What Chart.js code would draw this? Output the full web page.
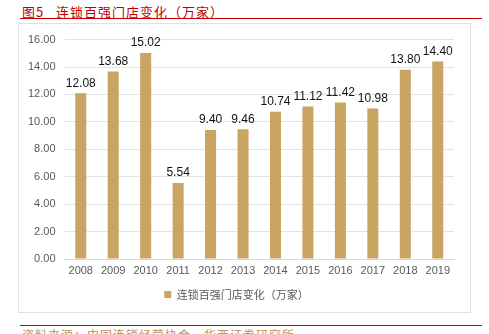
<!DOCTYPE html>
<html>
<head>
<meta charset="utf-8">
<script src="https://cdn.jsdelivr.net/npm/chart.js@4"></script>
<style>
  body { margin: 0; width: 489px; height: 334px; background: #fff; position: relative; overflow: hidden;
         font-family: "Noto Sans CJK SC", "Liberation Sans", sans-serif; }
  #title { position: absolute; left: 22px; top: 2px; font-size: 13px; color: #c00000; white-space: pre; letter-spacing: 1px; }
  #topline { position: absolute; left: 20px; top: 18px; width: 462px; height: 1px; background: #c00000; }
  #box { position: absolute; left: 18px; top: 23px; width: 451px; height: 288px; border: 1px solid #e0e0e0; }
  #botline { position: absolute; left: 20px; top: 325px; width: 462px; height: 1px; background: #c00000; }
  #source { position: absolute; left: 22px; top: 326px; font-size: 12px; color: #b8965a; white-space: pre; letter-spacing: 1px; }
</style>
</head>
<body>
<div id="title">图5   连锁百强门店变化（万家）</div>
<div id="topline"></div>
<div id="box"><canvas id="c"></canvas></div>
<div id="botline"></div>
<div id="source">资料来源：中国连锁经营协会，华西证券研究所</div>
<script>
const years = ["2008","2009","2010","2011","2012","2013","2014","2015","2016","2017","2018","2019"];
const stores = [12.08, 13.68, 15.02, 5.54, 9.40, 9.46, 10.74, 11.12, 11.42, 10.98, 13.80, 14.40];
const seriesName = "连锁百强门店变化（万家）";

const barLabels = {
  id: "barLabels",
  afterDatasetsDraw(chart) {
    const c = chart.ctx;
    c.save();
    c.font = "12px 'Liberation Sans', sans-serif";
    c.fillStyle = "#111";
    c.textAlign = "center";
    c.textBaseline = "bottom";
    chart.getDatasetMeta(0).data.forEach((bar, i) => {
      c.fillText(stores[i].toFixed(2), bar.x, bar.y - 4);
    });
    c.restore();
  }
};

const ctx = document.getElementById("c");
ctx.width = 451; ctx.height = 288;
new Chart(ctx, {
  type: "bar",
  data: {
    labels: years,
    datasets: [{
      label: seriesName,
      data: stores,
      backgroundColor: "#c9a462",
      barPercentage: 0.68,
      categoryPercentage: 0.5,
    }],
  },
  options: {
    responsive: false,
    animation: false,
    layout: { padding: { top: 7, right: 16, left: 0, bottom: 2 } },
    plugins: {
      legend: {
        position: "bottom",
        labels: {
          color: "#595959",
          font: { size: 11, family: "'Noto Sans CJK SC', sans-serif" },
          boxWidth: 7, boxHeight: 7,
          usePointStyle: true, pointStyle: "rect",
          padding: 6,
        },
      },
      tooltip: { enabled: false },
    },
    scales: {
      x: {
        grid: { display: false, drawTicks: false },
        border: { color: "#d9d9d9" },
        afterFit(scale) { scale.height = 24; },
        ticks: { padding: 5, color: "#595959", font: { size: 11, family: "'Liberation Sans', sans-serif" } },
      },
      y: {
        min: 0, max: 16,
        grid: { color: "#e3e3e3", drawTicks: false },
        border: { display: false },
        ticks: {
          stepSize: 2, padding: 9,
          color: "#595959", font: { size: 11, family: "'Liberation Sans', sans-serif" },
          callback: v => v.toFixed(2),
        },
      },
    },
  },
  plugins: [barLabels],
});
</script>
</body>
</html>
